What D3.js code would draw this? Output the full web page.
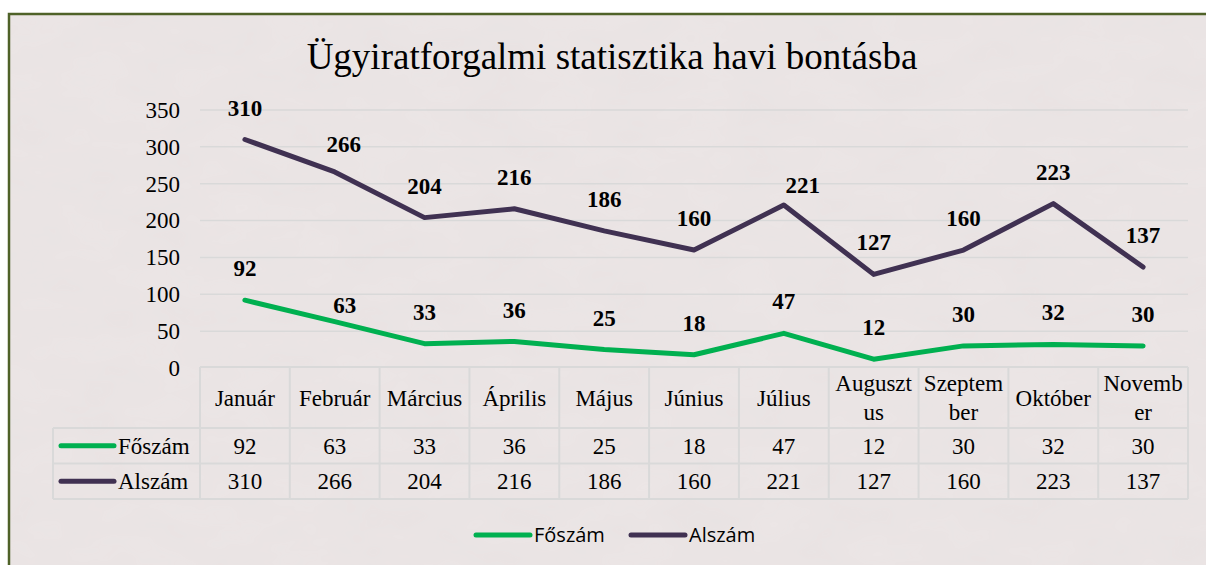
<html lang="hu">

<head>
    <meta charset="UTF-8">
    <title>Ügyiratforgalmi statisztika</title>
    <script src="https://d3js.org/d3.v7.js"></script>
    <style>
        body { margin: 0; background: #fff; }
    </style>
</head>

<body>
    <div id="chart"></div>

    <script>
        // data
        const months = ["Január", "Február", "Március", "Április", "Május", "Június", "Július", "Augusztus", "Szeptember", "Október", "November"];
        // header labels as they wrap in the data table
        const monthLabels = ["Január", "Február", "Március", "Április", "Május", "Június", "Július", "Auguszt\nus", "Szeptem\nber", "Október", "Novemb\ner"];
        const foszam = [92, 63, 33, 36, 25, 18, 47, 12, 30, 32, 30];
        const alszam = [310, 266, 204, 216, 186, 160, 221, 127, 160, 223, 137];
        const yTicks = [0, 50, 100, 150, 200, 250, 300, 350];

        const series = [
            { name: "Főszám", values: foszam, color: "#00b050" },
            { name: "Alszám", values: alszam, color: "#403152" }
        ];

        // a few data labels were dragged off their default spot in the original
        const labelNudge = {
            "Főszám": { "Február": [10, 15] },
            "Alszám": { "Február": [9, 4], "Július": [19, 12] }
        };

        const width = 1206;
        const height = 565;
        const serif = "'Liberation Serif', 'Times New Roman', serif";

        const svg = d3.select("#chart").append("svg")
            .attr("width", width)
            .attr("height", height);

        // subtle paper texture
        const filter = svg.append("defs").append("filter")
            .attr("id", "paper")
            .attr("x", 0).attr("y", 0).attr("width", "100%").attr("height", "100%");
        filter.append("feTurbulence")
            .attr("type", "fractalNoise")
            .attr("baseFrequency", "0.015 0.03")
            .attr("numOctaves", 3)
            .attr("seed", 4)
            .attr("result", "noise");
        filter.append("feColorMatrix")
            .attr("in", "noise")
            .attr("type", "matrix")
            .attr("values", "0 0 0 0 0.55  0 0 0 0 0.52  0 0 0 0 0.52  0 0 0 0.09 0")
            .attr("result", "tint");
        filter.append("feComposite")
            .attr("in", "tint")
            .attr("in2", "SourceGraphic")
            .attr("operator", "in");

        // chart background + border
        svg.append("rect")
            .attr("x", 9)
            .attr("y", 14)
            .attr("width", width + 10)
            .attr("height", height + 10)
            .attr("fill", "#ece6e6");
        svg.append("rect")
            .attr("x", 9)
            .attr("y", 14)
            .attr("width", width + 10)
            .attr("height", height + 10)
            .attr("fill", "#ece6e6")
            .attr("filter", "url(#paper)");
        svg.append("rect")
            .attr("x", 9)
            .attr("y", 14)
            .attr("width", width + 10)
            .attr("height", height + 10)
            .attr("fill", "none")
            .attr("stroke", "#4f6228")
            .attr("stroke-width", 2.5);

        const x = d3.scaleBand()
            .domain(months)
            .range([200, 1188]);

        const y = d3.scaleLinear()
            .domain([0, 350])
            .range([368, 110]);

        const cx = m => x(m) + x.bandwidth() / 2;

        // title
        svg.append("text")
            .attr("x", 612)
            .attr("y", 69)
            .attr("text-anchor", "middle")
            .style("font-family", serif)
            .style("font-size", "37px")
            .style("fill", "#000")
            .text("Ügyiratforgalmi statisztika havi bontásba");

        // gridlines
        svg.append("g")
            .selectAll("line")
            .data(yTicks.filter(d => d > 0))
            .join("line")
            .attr("x1", 200)
            .attr("x2", 1188)
            .attr("y1", d => y(d))
            .attr("y2", d => y(d))
            .attr("stroke", "#d9d9d9")
            .attr("stroke-width", 1.5);

        // y axis
        const yAxis = svg.append("g")
            .attr("transform", "translate(200,0)")
            .call(d3.axisLeft(y).tickValues(yTicks).tickSize(0).tickPadding(20));
        yAxis.select(".domain").remove();
        yAxis.selectAll("text")
            .style("font-family", serif)
            .style("font-size", "23px")
            .style("fill", "#000");

        // lines
        const line = d3.line()
            .x((d, i) => cx(months[i]))
            .y(d => y(d));

        svg.append("g")
            .selectAll("path")
            .data(series)
            .join("path")
            .attr("d", d => line(d.values))
            .attr("fill", "none")
            .attr("stroke", d => d.color)
            .attr("stroke-width", 5)
            .attr("stroke-linejoin", "round")
            .attr("stroke-linecap", "round");

        // data labels
        series.forEach(s => {
            const nudge = (i, k) => ((labelNudge[s.name] || {})[months[i]] || [0, 0])[k];
            svg.append("g")
                .selectAll("text")
                .data(s.values)
                .join("text")
                .attr("x", (d, i) => cx(months[i]) + nudge(i, 0))
                .attr("y", (d, i) => y(d) - 32 + nudge(i, 1))
                .attr("dy", "0.35em")
                .attr("text-anchor", "middle")
                .style("font-family", serif)
                .style("font-size", "23px")
                .style("font-weight", "bold")
                .style("fill", "#000")
                .text(d => d);
        });

        // data table
        const tableTop = 367;
        const headerH = 61;
        const rowH = 35.5;
        const labelLeft = 53;
        const gridColor = "#d9d9d9";
        const table = svg.append("g");

        // horizontal table lines
        const rowYs = [tableTop, tableTop + headerH, tableTop + headerH + rowH, tableTop + headerH + 2 * rowH];
        table.selectAll("line.h")
            .data(rowYs)
            .join("line")
            .attr("class", "h")
            .attr("x1", (d, i) => i === 0 ? 200 : labelLeft)
            .attr("x2", 1188)
            .attr("y1", d => d)
            .attr("y2", d => d)
            .attr("stroke", gridColor)
            .attr("stroke-width", 2);

        // vertical table lines
        const colXs = months.map(m => x(m)).concat([x.range()[1]]);
        table.selectAll("line.v")
            .data(colXs)
            .join("line")
            .attr("class", "v")
            .attr("x1", d => d)
            .attr("x2", d => d)
            .attr("y1", tableTop)
            .attr("y2", rowYs[3])
            .attr("stroke", gridColor)
            .attr("stroke-width", 2);
        table.append("line")
            .attr("x1", labelLeft)
            .attr("x2", labelLeft)
            .attr("y1", rowYs[1])
            .attr("y2", rowYs[3])
            .attr("stroke", gridColor)
            .attr("stroke-width", 2);

        // header labels
        table.selectAll("text.head")
            .data(monthLabels)
            .join("text")
            .attr("class", "head")
            .attr("x", (d, i) => cx(months[i]))
            .attr("y", d => {
                const n = d.split("\n").length;
                return tableTop + headerH / 2 - (n - 1) * 14.5;
            })
            .attr("text-anchor", "middle")
            .style("font-family", serif)
            .style("font-size", "23px")
            .style("fill", "#000")
            .each(function (d) {
                d.split("\n").forEach((part, k) => {
                    d3.select(this).append("tspan")
                        .attr("x", d3.select(this).attr("x"))
                        .attr("dy", k === 0 ? "0.35em" : "29px")
                        .text(part);
                });
            });

        // value rows
        series.forEach((s, r) => {
            const rowMid = rowYs[r + 1] + rowH / 2;
            table.append("line")
                .attr("x1", 61)
                .attr("x2", 114)
                .attr("y1", rowMid)
                .attr("y2", rowMid)
                .attr("stroke", s.color)
                .attr("stroke-width", 5)
                .attr("stroke-linecap", "round");
            table.append("text")
                .attr("x", 118)
                .attr("y", rowMid)
                .attr("dy", "0.35em")
                .style("font-family", serif)
                .style("font-size", "23px")
                .style("fill", "#000")
                .text(s.name);
            table.append("g")
                .selectAll("text")
                .data(s.values)
                .join("text")
                .attr("x", (d, i) => cx(months[i]))
                .attr("y", rowMid)
                .attr("dy", "0.35em")
                .attr("text-anchor", "middle")
                .style("font-family", serif)
                .style("font-size", "23px")
                .style("fill", "#000")
                .text(d => d);
        });

        // legend
        const legend = svg.append("g");
        const legendX = [476, 631];
        series.forEach((s, i) => {
            legend.append("line")
                .attr("x1", legendX[i])
                .attr("x2", legendX[i] + 54)
                .attr("y1", 535)
                .attr("y2", 535)
                .attr("stroke", s.color)
                .attr("stroke-width", 5)
                .attr("stroke-linecap", "round");
            legend.append("text")
                .attr("x", legendX[i] + 58)
                .attr("y", 535)
                .attr("dy", "0.35em")
                .style("font-family", "'Open Sans', sans-serif")
                .style("font-size", "20px")
                .style("fill", "#000")
                .text(s.name);
        });
    </script>
</body>

</html>
